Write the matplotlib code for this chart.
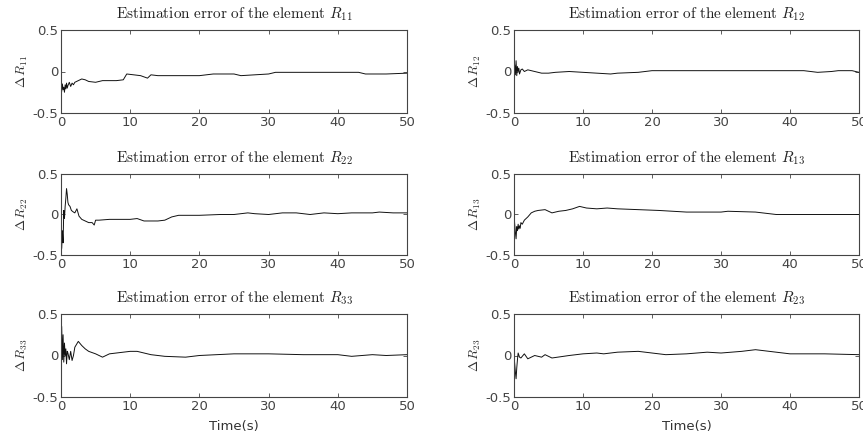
import matplotlib.pyplot as plt

plt.rcParams['mathtext.fontset'] = 'cm'
plt.rcParams['font.family'] = 'DejaVu Sans'

# estimation error of each element of R
t_r11 = [0, 0.1, 0.2, 0.3, 0.4, 0.5, 0.6, 0.7, 0.8, 0.9, 1.0, 1.2, 1.4, 1.6, 1.8, 2.0, 2.5, 3.0, 3.5,
         4.0, 5.0, 6.0, 7.0, 8.0, 9.0, 9.5, 10.5, 11.5, 12.5, 13.0, 14.0, 16.0, 18.0, 20.0, 22.0, 25.0,
         26.0, 28.0, 30.0, 31.0, 35.0, 40.0, 43.0, 44.0, 47.0, 50.0]
r11 = [-0.18, -0.24, -0.15, -0.22, -0.19, -0.25, -0.16, -0.21, -0.14, -0.2, -0.17, -0.13, -0.18, -0.14,
       -0.16, -0.13, -0.11, -0.09, -0.1, -0.12, -0.13, -0.11, -0.11, -0.11, -0.1, -0.03, -0.04, -0.05,
       -0.08, -0.04, -0.05, -0.05, -0.05, -0.05, -0.03, -0.03, -0.05, -0.04, -0.03, -0.01, -0.01,
       -0.01, -0.01, -0.03, -0.03, -0.02]

t_r12 = [0, 0.1, 0.2, 0.3, 0.4, 0.5, 0.6, 0.7, 0.8, 1.0, 1.2, 1.5, 2.0, 3.0, 4.0, 5.0, 6.0, 8.0, 10.0,
         12.0, 14.0, 15.0, 18.0, 20.0, 25.0, 30.0, 35.0, 40.0, 42.0, 44.0, 46.0, 47.0, 49.0, 50.0]
r12 = [0.0, 0.08, -0.04, 0.13, -0.05, 0.06, 0.0, 0.04, -0.03, 0.02, 0.03, 0.0, 0.02, 0.0, -0.02,
       -0.02, -0.01, 0.0, -0.01, -0.02, -0.03, -0.02, -0.01, 0.01, 0.01, 0.01, 0.01, 0.01, 0.01,
       -0.01, 0.0, 0.01, 0.01, -0.01]

t_r22 = [0, 0.1, 0.2, 0.3, 0.4, 0.5, 0.6, 0.7, 0.8, 0.9, 1.0, 1.1, 1.3, 1.5, 1.8, 2.0, 2.3, 2.6, 3.0,
         3.5, 4.0, 4.5, 4.8, 5.0, 5.5, 7.0, 8.0, 10.0, 11.0, 12.0, 14.0, 15.0, 16.0, 17.0, 20.0, 23.0,
         25.0, 27.0, 28.0, 30.0, 32.0, 34.0, 36.0, 38.0, 40.0, 42.0, 45.0, 46.0, 48.0, 50.0]
r22 = [-0.3, -0.42, -0.2, -0.35, 0.05, -0.05, 0.1, 0.2, 0.32, 0.25, 0.15, 0.12, 0.1, 0.05, 0.03,
       0.02, 0.07, -0.02, -0.06, -0.08, -0.1, -0.1, -0.13, -0.07, -0.07, -0.06, -0.06, -0.06, -0.05,
       -0.08, -0.08, -0.07, -0.03, -0.01, -0.01, 0.0, 0.0, 0.02, 0.01, 0.0, 0.02, 0.02, 0.0, 0.02,
       0.01, 0.02, 0.02, 0.03, 0.02, 0.02]

t_r13 = [0, 0.1, 0.2, 0.3, 0.4, 0.5, 0.6, 0.7, 0.8, 0.9, 1.0, 1.2, 1.5, 2.0, 2.5, 3.0, 3.5, 4.5, 5.5,
         6.5, 7.5, 8.5, 9.5, 10.5, 12.0, 13.5, 15.0, 18.0, 21.0, 25.0, 30.0, 31.0, 35.0, 36.0, 38.0,
         42.0, 46.0, 50.0]
r13 = [0.0, -0.12, -0.22, -0.3, -0.15, -0.2, -0.12, -0.18, -0.14, -0.17, -0.1, -0.12, -0.07, -0.03,
       0.02, 0.04, 0.05, 0.06, 0.02, 0.04, 0.05, 0.07, 0.1, 0.08, 0.07, 0.08, 0.07, 0.06, 0.05, 0.03,
       0.03, 0.04, 0.03, 0.02, 0.0, 0.0, 0.0, 0.0]

t_r33 = [0, 0.1, 0.2, 0.3, 0.4, 0.5, 0.6, 0.7, 0.8, 0.9, 1.0, 1.2, 1.4, 1.6, 1.8, 2.0, 2.5, 3.0, 3.5,
         4.0, 5.0, 6.0, 7.0, 8.0, 10.0, 11.0, 13.0, 15.0, 18.0, 20.0, 25.0, 30.0, 35.0, 40.0, 42.0,
         45.0, 47.0, 50.0]
r33 = [0.1, 0.35, -0.05, 0.25, -0.08, 0.15, 0.0, 0.08, -0.1, 0.05, 0.03, -0.05, 0.05, -0.06, 0.0,
       0.1, 0.17, 0.12, 0.08, 0.05, 0.02, -0.02, 0.02, 0.03, 0.05, 0.05, 0.01, -0.01, -0.02, 0.0,
       0.02, 0.02, 0.01, 0.01, -0.01, 0.01, 0.0, 0.01]

t_r23 = [0, 0.1, 0.2, 0.3, 0.4, 0.5, 0.6, 0.8, 1.0, 1.5, 2.0, 3.0, 4.0, 4.5, 5.5, 8.0, 10.0, 12.0,
         13.0, 15.0, 18.0, 20.0, 22.0, 25.0, 28.0, 30.0, 33.0, 35.0, 38.0, 40.0, 45.0, 50.0]
r23 = [0.0, -0.1, -0.2, -0.28, -0.15, -0.05, 0.03, -0.02, -0.03, 0.02, -0.04, 0.0, -0.02, 0.01,
       -0.03, 0.0, 0.02, 0.03, 0.02, 0.04, 0.05, 0.03, 0.01, 0.02, 0.04, 0.03, 0.05, 0.07, 0.04,
       0.02, 0.02, 0.01]

panels = [
    (t_r11, r11, '11', [61, 30, 407, 113]),
    (t_r12, r12, '12', [514, 30, 859, 113]),
    (t_r22, r22, '22', [61, 174, 407, 255]),
    (t_r13, r13, '13', [514, 174, 859, 255]),
    (t_r33, r33, '33', [61, 314, 407, 397]),
    (t_r23, r23, '23', [514, 314, 859, 397]),
]

W, H = 863, 443
fig = plt.figure(figsize=(W / 100, H / 100), dpi=100)

for i, (t, r, idx, box) in enumerate(panels):
    x0, y0, x1, y1 = box
    ax = fig.add_axes([x0 / W, 1 - y1 / H, (x1 - x0) / W, (y1 - y0) / H])
    ax.plot(t, r, color='#111111', lw=0.7)
    ax.set_xlim(0, 50)
    ax.set_ylim(-0.5, 0.5)
    ax.set_xticks([0, 10, 20, 30, 40, 50])
    ax.set_yticks([-0.5, 0, 0.5])
    ax.set_yticklabels(['-0.5', '0', '0.5'])
    ax.tick_params(direction='in', top=True, right=True, length=3, width=0.6,
                   labelsize=9.5, colors='#444444', pad=2)
    for s in ax.spines.values():
        s.set_color('#444444')
        s.set_linewidth(0.8)
    ax.set_title(r'$\mathrm{Estimation\ error\ of\ the\ element}\ R_{%s}$' % idx,
                 fontsize=11, pad=8, color='#222222')
    ax.set_ylabel(r'$\Delta\,R_{%s}$' % idx, fontsize=9.5, labelpad=2, color='#333333')
    if i >= 4:
        ax.set_xlabel('Time(s)', fontsize=9.5, labelpad=5, color='#333333')

fig.savefig('out.png', dpi=100)
